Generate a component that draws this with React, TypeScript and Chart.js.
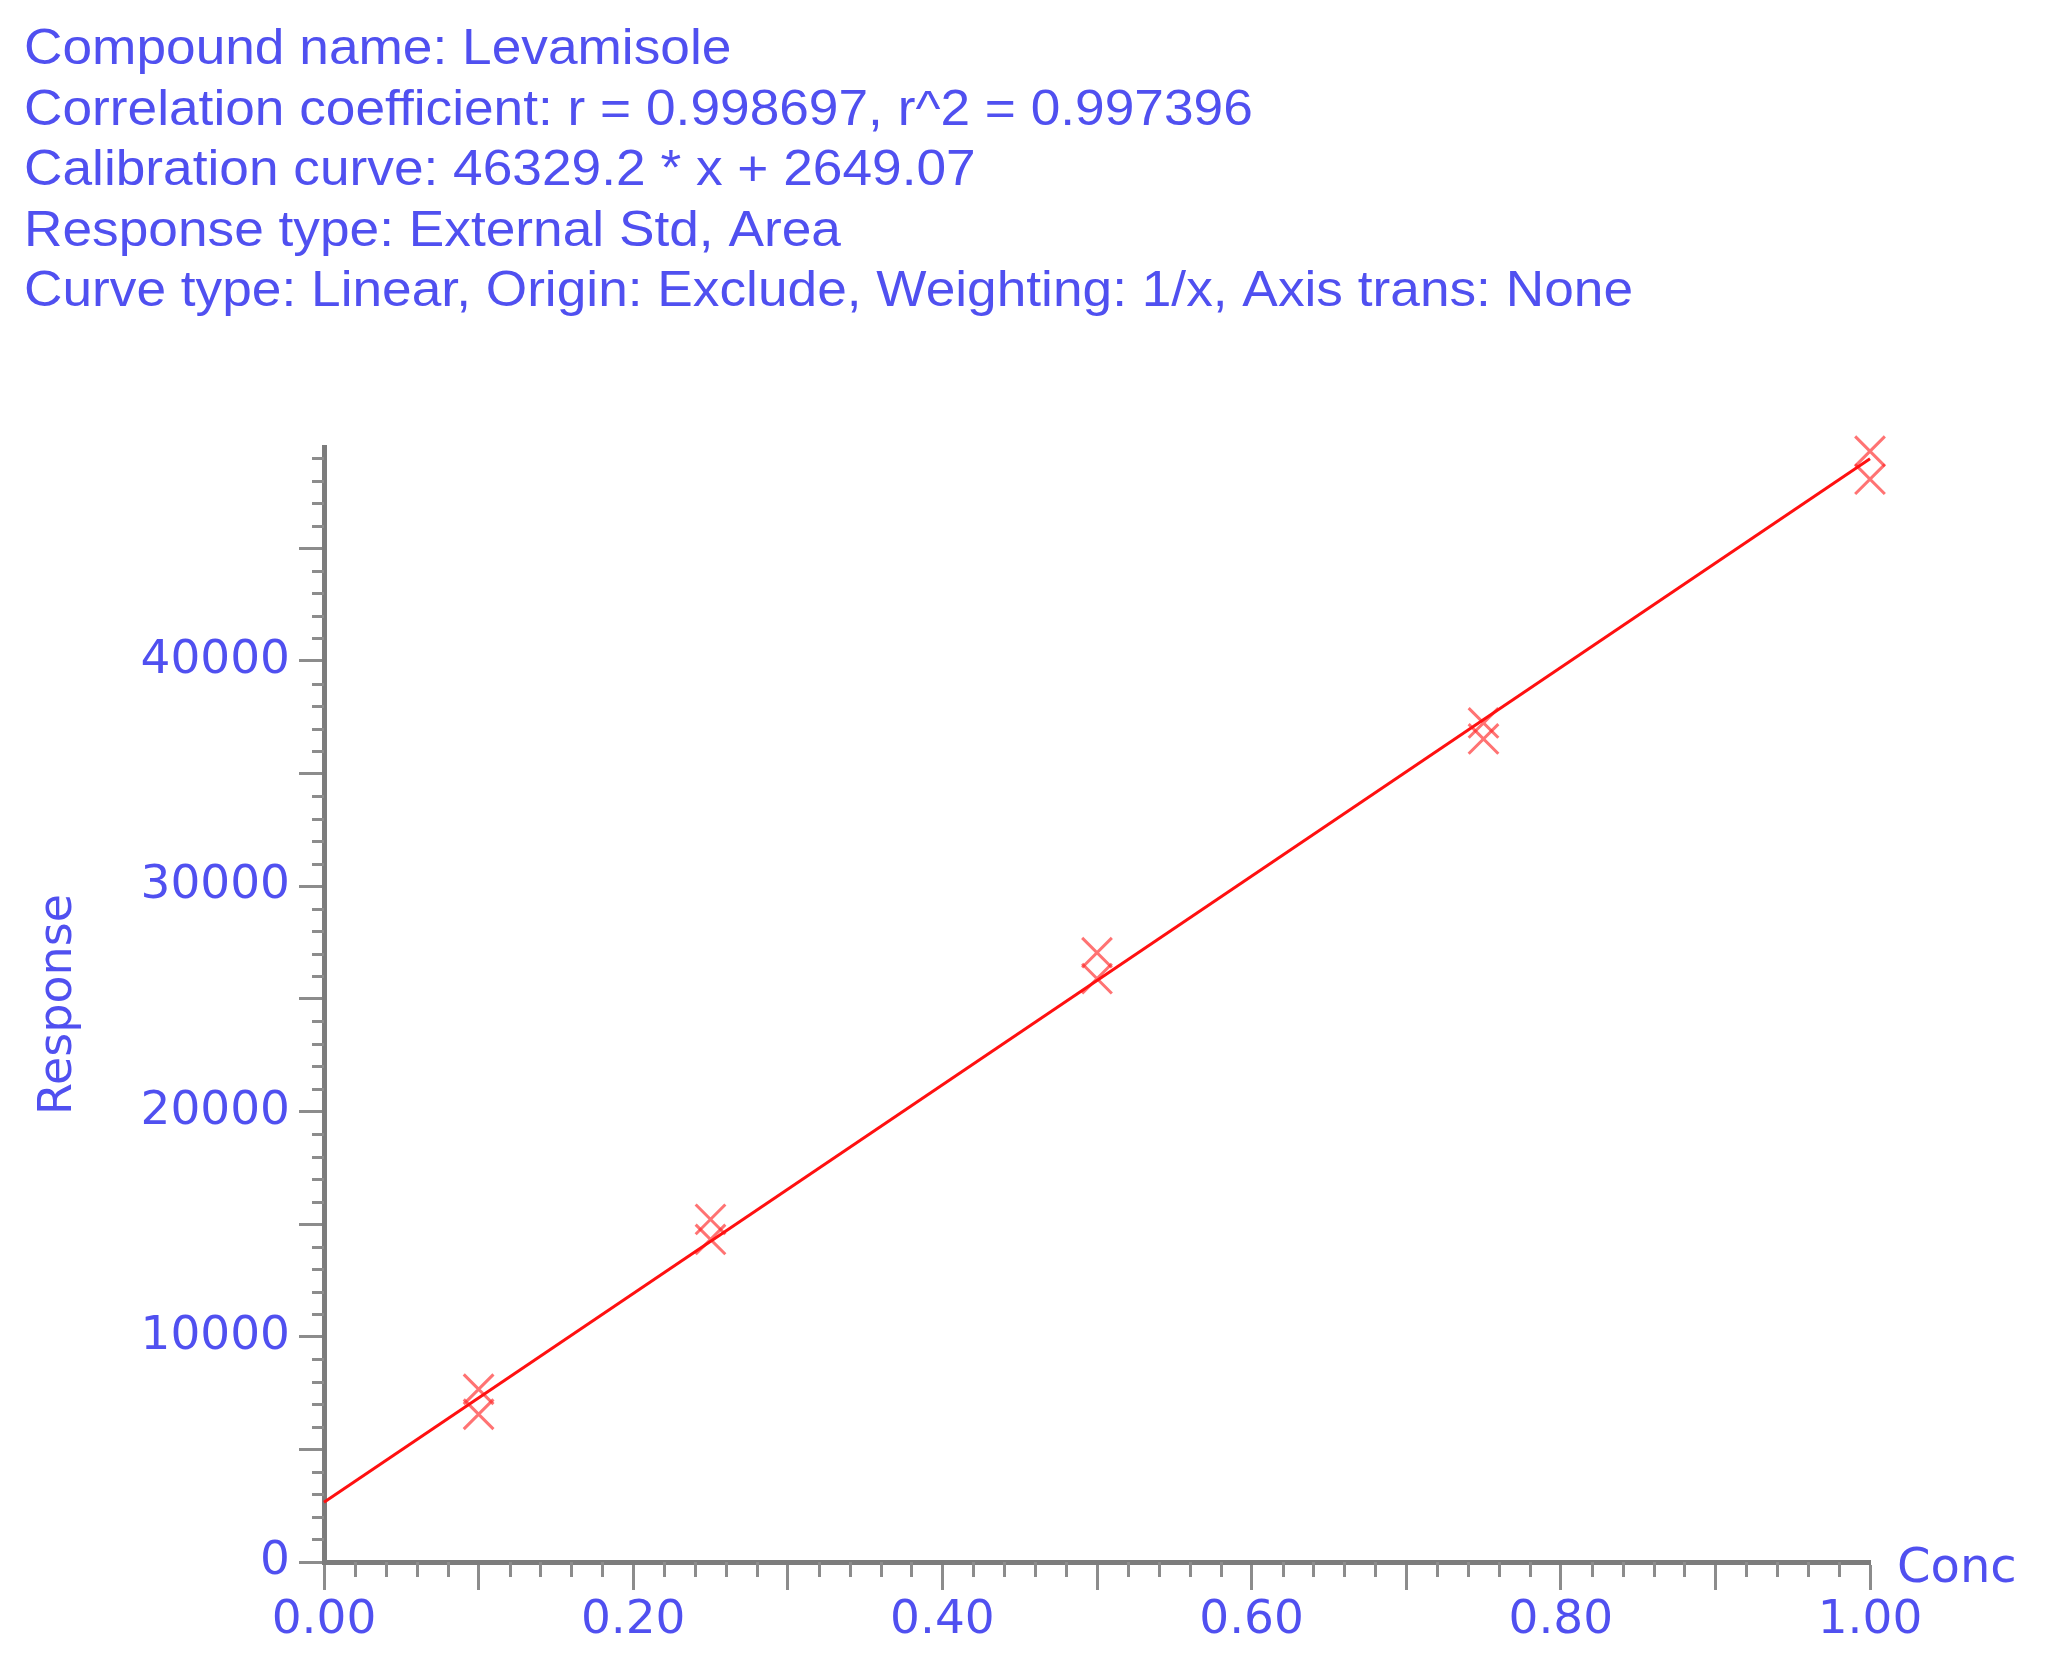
import { useEffect, useRef } from 'react';
import { Chart, registerables } from 'chart.js';

Chart.register(...registerables);

// ---- data ----
const headerLines = [
  'Compound name: Levamisole',
  'Correlation coefficient: r = 0.998697, r^2 = 0.997396',
  'Calibration curve: 46329.2 * x + 2649.07',
  'Response type: External Std, Area',
  'Curve type: Linear, Origin: Exclude, Weighting: 1/x, Axis trans: None',
];

const concLevels = [0.1, 0.1, 0.25, 0.25, 0.5, 0.5, 0.75, 0.75, 1.0, 1.0];
const responses = [7670, 6560, 15210, 14320, 27050, 25900, 37250, 36540, 49310, 48070];

const fitConc = [0, 1.0];
const fitResponse = [2649.07, 48978.27];

const xLabelValues = [0, 0.2, 0.4, 0.6, 0.8, 1.0];
const xTickLabels = ['0.00', '0.20', '0.40', '0.60', '0.80', '1.00'];
const yLabelValues = [0, 10000, 20000, 30000, 40000];
const yTickLabels = ['0', '10000', '20000', '30000', '40000'];

const xAxisTitle = 'Conc';
const yAxisTitle = 'Response';

// ---- styles ----
const BLUE = '#5050f0';
const AXIS_GRAY = '#7c7c7c';
const TICK_GRAY = '#8c8c8c';
const TICK_FONT = 'DejaVu Sans';

const overlayPlugin = {
  id: 'overlay',
  afterDraw(chart: any) {
    const ctx = chart.ctx as CanvasRenderingContext2D;
    const xs = chart.scales.x;
    const ys = chart.scales.y;
    const area = chart.chartArea;
    ctx.save();
    // minor ticks
    ctx.strokeStyle = TICK_GRAY;
    ctx.lineWidth = 3;
    ctx.beginPath();
    for (let k = 1; k * 1000 < ys.max; k++) {
      if (k % 5 === 0) continue;
      const py = Math.round(ys.getPixelForValue(k * 1000)) + 0.5;
      ctx.moveTo(area.left, py);
      ctx.lineTo(area.left - 12, py);
    }
    for (let k = 1; k < 50; k++) {
      if (k % 5 === 0) continue;
      const px = Math.round(xs.getPixelForValue(k * 0.02)) + 0.5;
      ctx.moveTo(px, area.bottom);
      ctx.lineTo(px, area.bottom + 15);
    }
    ctx.stroke();

    // x axis title at the end of the axis
    ctx.fillStyle = BLUE;
    ctx.font = `48px "${TICK_FONT}"`;
    ctx.textBaseline = 'middle';
    ctx.textAlign = 'left';
    ctx.fillText(xAxisTitle, area.right + 27, area.bottom + 8);

    // header text
    ctx.font = '50px "Liberation Sans", Arial, sans-serif';
    ctx.textBaseline = 'alphabetic';
    const w5 = ctx.measureText(headerLines[headerLines.length - 1]).width;
    const sx = 1609 / w5;
    headerLines.forEach((line, i) => {
      ctx.save();
      ctx.translate(24, 64 + i * 60.5);
      ctx.scale(sx, 1);
      ctx.fillText(line, 0, 0);
      ctx.restore();
    });
    ctx.restore();
  },
};

export default function App() {
  const canvasRef = useRef<HTMLCanvasElement | null>(null);

  useEffect(() => {
    if (!canvasRef.current) return;
    const chart = new Chart(canvasRef.current, {
      type: 'scatter',
      data: {
        datasets: [
          {
            label: 'Calibration curve',
            data: fitConc.map((x, i) => ({ x, y: fitResponse[i] })),
            showLine: true,
            borderColor: '#ff1010',
            borderWidth: 3,
            pointRadius: 0,
            clip: false as any,
          },
          {
            label: 'Standards',
            data: concLevels.map((x, i) => ({ x, y: responses[i] })),
            showLine: false,
            pointStyle: 'crossRot',
            pointRadius: 21,
            pointBorderWidth: 3,
            pointBorderColor: 'rgba(255,40,40,0.65)',
            pointBackgroundColor: 'rgba(0,0,0,0)',
            clip: false as any,
          },
        ],
      },
      options: {
        animation: false,
        responsive: false,
        devicePixelRatio: 1,
        layout: { padding: { top: 447, right: 183, left: 0, bottom: 0 } },
        plugins: {
          legend: { display: false },
          tooltip: { enabled: false },
        },
        scales: {
          x: {
            type: 'linear',
            min: 0,
            max: 1,
            afterBuildTicks: (s: any) => {
              const t = [];
              for (let k = 0; k <= 10; k++) t.push({ value: k / 10 });
              s.ticks = t;
            },
            afterFit: (s: any) => {
              s.height = 102;
            },
            ticks: {
              autoSkip: false,
              maxRotation: 0,
              padding: 3,
              color: BLUE,
              font: { family: TICK_FONT, size: 47 },
              callback: (v: any) => {
                const i = xLabelValues.findIndex((lv) => Math.abs(lv - Number(v)) < 1e-6);
                return i >= 0 ? xTickLabels[i] : '';
              },
            },
            grid: {
              drawOnChartArea: false,
              drawTicks: true,
              tickLength: 28,
              tickWidth: 3,
              tickColor: TICK_GRAY,
            },
            border: { display: true, color: AXIS_GRAY, width: 5 },
          },
          y: {
            type: 'linear',
            min: 0,
            max: 49500,
            afterBuildTicks: (s: any) => {
              const t = [];
              for (let k = 0; k * 5000 <= 49500; k++) t.push({ value: k * 5000 });
              s.ticks = t;
            },
            afterFit: (s: any) => {
              s.width = 324;
            },
            ticks: {
              autoSkip: false,
              padding: 9,
              color: BLUE,
              font: { family: TICK_FONT, size: 47 },
              callback: (v: any) => {
                const i = yLabelValues.indexOf(Number(v));
                return i >= 0 ? yTickLabels[i] : '';
              },
            },
            grid: {
              drawOnChartArea: false,
              drawTicks: true,
              tickLength: 25,
              tickWidth: 3,
              tickColor: TICK_GRAY,
            },
            border: { display: true, color: AXIS_GRAY, width: 5 },
            title: {
              display: true,
              text: yAxisTitle,
              color: BLUE,
              font: { family: TICK_FONT, size: 46 },
              padding: { top: 31, bottom: 0 },
            },
          },
        },
      },
      plugins: [overlayPlugin],
    });
    return () => chart.destroy();
  }, []);

  return (
    <div style={{ position: 'absolute', left: 0, top: 0, width: 2053, height: 1664, background: '#fff' }}>
      <canvas ref={canvasRef} width={2053} height={1664} style={{ display: 'block' }} />
    </div>
  );
}
